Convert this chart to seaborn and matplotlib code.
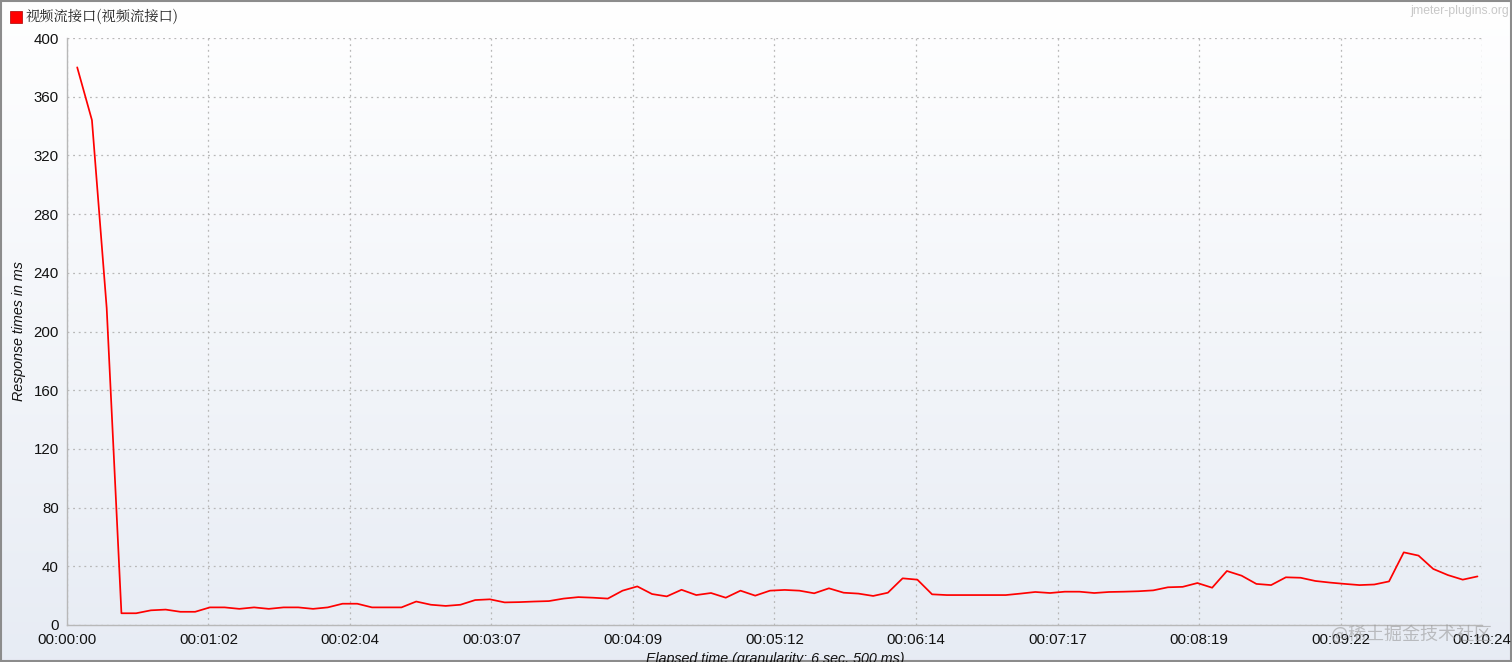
import numpy as np
import pandas as pd
import seaborn as sns
import matplotlib.pyplot as plt
from matplotlib.patches import Rectangle

series_name = "视频流接口(视频流接口)"
granularity_s = 6.5
first_point_s = 4.5

resp_ms = [
    380, 344, 216, 8, 8, 10, 10.5, 9, 9, 12,
    12, 11, 12, 11, 12, 12, 11, 12, 14.5, 14.5,
    12, 12, 12, 16, 13.8, 13, 13.8, 17, 17.5, 15.4,
    15.6, 16, 16.3, 18, 19, 18.6, 18, 23.4, 26.3, 21.1,
    19.5, 24, 20.4, 21.8, 18.6, 23.4, 20, 23.4, 23.9, 23.4,
    21.6, 25, 22, 21.4, 19.8, 22, 31.8, 30.9, 20.9, 20.4,
    20.4, 20.4, 20.4, 20.4, 21.4, 22.5, 21.8, 22.7, 22.7, 21.8,
    22.5, 22.7, 23, 23.6, 25.7, 26, 28.6, 25.4, 36.8, 33.6,
    28, 27.2, 32.5, 32.2, 30, 28.9, 28, 27.2, 27.6, 29.7,
    49.5, 47.3, 38.2, 34, 30.9, 33.1,
]

x_tick_labels = ["00:00:00", "00:01:02", "00:02:04", "00:03:07", "00:04:09",
                 "00:05:12", "00:06:14", "00:07:17", "00:08:19", "00:09:22",
                 "00:10:24"]
y_ticks = [0, 40, 80, 120, 160, 200, 240, 280, 320, 360, 400]

elapsed = first_point_s + granularity_s * np.arange(len(resp_ms))
df = pd.DataFrame({"elapsed": elapsed, "ms": resp_ms})

sns.set_theme(style="white")
plt.rcParams["font.family"] = ["Liberation Sans", "Noto Sans CJK SC", "DejaVu Sans"]

fig = plt.figure(figsize=(15.12, 6.62), dpi=100)

# vertical gradient behind everything
bg = fig.add_axes([0, 0, 1, 1], zorder=-10)
grad = np.linspace(0, 1, 256).reshape(-1, 1)
top = np.array([1.0, 1.0, 1.0])
bot = np.array([0.906, 0.925, 0.957])
img = top + (bot - top) * grad[:, :, None]
bg.imshow(img, aspect="auto", extent=[0, 1, 0, 1], origin="upper")
bg.set_xlim(0, 1)
bg.set_ylim(0, 1)
bg.axis("off")
bg.add_patch(Rectangle((0.0005, 0.001), 0.999, 0.997, fill=False,
                       edgecolor="#8c8c8c", linewidth=1.5))

ax = fig.add_axes([67 / 1512, 1 - 625 / 662, (1482 - 67) / 1512, (625 - 38) / 662])
ax.patch.set_alpha(0)

sns.lineplot(data=df, x="elapsed", y="ms", ax=ax, color="#ff0000",
             linewidth=1.25, legend=False)

ax.set_xlim(0, 624)
ax.set_ylim(0, 400)
ax.set_xticks(np.linspace(0, 624, len(x_tick_labels)))
ax.set_xticklabels(x_tick_labels)
ax.set_yticks(y_ticks)
ax.tick_params(axis="both", labelsize=10.8, colors="#111111", length=4,
               width=0.8, color="#b0b0b0", pad=2)
ax.grid(True, color="#b8b8b8", linestyle=(0, (1.5, 3)), linewidth=0.9)

for s in ["top", "right"]:
    ax.spines[s].set_visible(False)
for s in ["left", "bottom"]:
    ax.spines[s].set_color("#b8b8b8")
    ax.spines[s].set_linewidth(1.0)

ax.set_xlabel("")
ax.set_ylabel("Response times in ms", fontsize=10.3, style="italic",
              color="#111111")
ax.yaxis.set_label_coords(-0.029, 0.5)

fig.text(775 / 1512, 1 - 652 / 662, "Elapsed time (granularity: 6 sec. 500 ms)",
         ha="center", va="top", fontsize=10.3, style="italic", color="#111111")

# legend in the top left
bg.add_patch(Rectangle((10 / 1512, 1 - 23 / 662), 12 / 1512, 12 / 662,
                       facecolor="#ff0000", edgecolor="#aa0000", linewidth=0.5))
fig.text(26 / 1512, 1 - 17 / 662, series_name, ha="left", va="center",
         fontsize=10.3, color="#222222",
         family=["Noto Serif CJK SC", "Noto Sans CJK SC", "DejaVu Sans"])

fig.text(1509 / 1512, 1 - 11 / 662, "jmeter-plugins.org", ha="right",
         va="center", fontsize=8.8, color="#c8c8c8")
fig.text(1492 / 1512, 1 - 634 / 662, "@稀土掘金技术社区", ha="right",
         va="center", fontsize=13, color="#9a9a9a", alpha=0.6,
         family=["Noto Sans CJK SC", "DejaVu Sans"])

fig.savefig("out.png", dpi=100)
